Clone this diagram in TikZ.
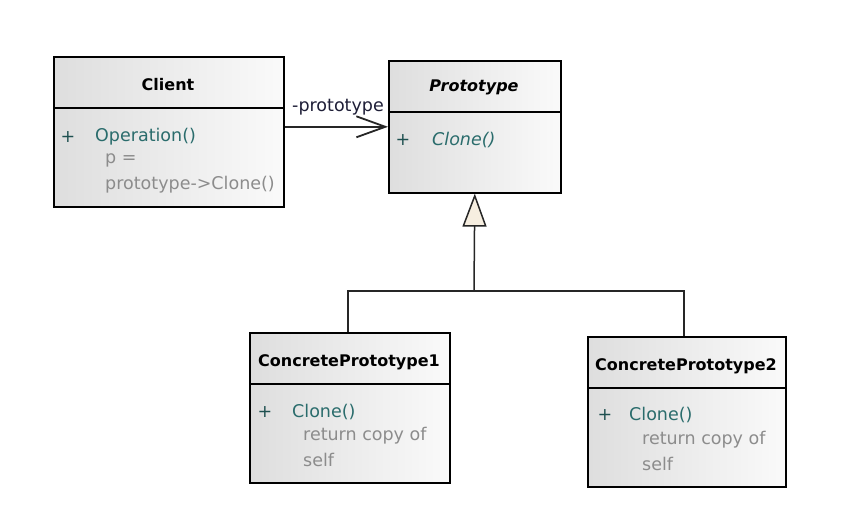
\documentclass[tikz,border=0pt]{standalone}
\usepackage{fontspec}
\setmainfont{DejaVu Sans}
\usetikzlibrary{arrows.meta,calc}
\definecolor{teal1}{RGB}{42,108,108}
\definecolor{plusc}{RGB}{30,80,80}
\definecolor{graytxt}{RGB}{140,140,140}
\definecolor{lblc}{RGB}{30,30,55}
\definecolor{trifill}{RGB}{246,238,224}
\tikzset{
  classbox/.style={draw=black, line width=1.6pt, anchor=north west, inner sep=0pt,
    left color=black!13, right color=black!2},
  titletext/.style={font=\fontsize{16}{19}\selectfont\bfseries, inner sep=0pt},
  optext/.style={font=\fontsize{17.5}{21}\selectfont, text=teal1, anchor=west, inner sep=0pt},
  plustext/.style={font=\fontsize{17.5}{21}\selectfont, text=plusc, inner sep=0pt},
  notetext/.style={font=\fontsize{17.5}{21}\selectfont, text=graytxt, anchor=west, inner sep=0pt},
  divider/.style={line width=1.6pt, draw=black},
  conn/.style={line width=1.5pt, draw=black!85}
}
\begin{document}
\begin{tikzpicture}[x=1pt,y=-1pt]
\useasboundingbox[fill=white] (0,0) rectangle (863,516);

% Client
\node[classbox, minimum width=230pt, minimum height=150pt] (client) at (53,56) {};
\draw[divider] ($(client.north west)+(0,52)$) -- ($(client.north east)+(0,52)$);
\node[titletext] (clientT) at (168,85) {Client};
\node[plustext] (clientP) at (68,137) {+};
\node[optext] (clientO) at (95,137) {Operation()};
\node[notetext] (clientN1) at (105,160) {p =};
\node[notetext] (clientN2) at (105,185) {prototype->Clone()};

% Prototype
\node[classbox, minimum width=172pt, minimum height=132pt] (proto) at (388,60) {};
\draw[divider] ($(proto.north west)+(0,52)$) -- ($(proto.north east)+(0,52)$);
\node[titletext, font=\fontsize{16}{19}\selectfont\bfseries\itshape] (protoT) at (474,87) {Prototype};
\node[plustext] (protoP) at (403,140) {+};
\node[optext, font=\fontsize{17.5}{21}\selectfont\itshape] (protoO) at (432,140) {Clone()};

% ConcretePrototype1
\node[classbox, minimum width=200pt, minimum height=150pt] (cp1) at (249,332) {};
\draw[divider] ($(cp1.north west)+(0,52)$) -- ($(cp1.north east)+(0,52)$);
\node[titletext] (cp1T) at (349,362) {ConcretePrototype1};
\node[plustext] (cp1P) at (265,412) {+};
\node[optext] (cp1O) at (292,412) {Clone()};
\node[notetext] (cp1N1) at (303,436) {return copy of};
\node[notetext] (cp1N2) at (303,460) {self};

% ConcretePrototype2
\node[classbox, minimum width=198pt, minimum height=150pt] (cp2) at (587,336) {};
\draw[divider] ($(cp2.north west)+(0,52)$) -- ($(cp2.north east)+(0,52)$);
\node[titletext] (cp2T) at (686,366) {ConcretePrototype2};
\node[plustext] (cp2P) at (605,415) {+};
\node[optext] (cp2O) at (629,415) {Clone()};
\node[notetext] (cp2N1) at (642,440) {return copy of};
\node[notetext] (cp2N2) at (642,464) {self};

% Association
\draw[conn, -{Straight Barb[length=29pt,width=21pt,line width=1.8pt]}]
  (proto.west -| client.east) -- (proto.west);
\node[font=\fontsize{17.5}{21}\selectfont, text=lblc, anchor=base west, inner sep=0pt]
  (assocL) at (292,112) {-prototype};

% Generalization
\coordinate (j) at (474,291);
\draw[conn, {Triangle[length=33pt,width=24pt,fill=trifill,line width=1.5pt]}-]
  (proto.south) -- (j);
\draw[conn] ([xshift=-2pt]cp1.north) |- (j) -| ([xshift=-3pt]cp2.north);
\end{tikzpicture}
\end{document}
